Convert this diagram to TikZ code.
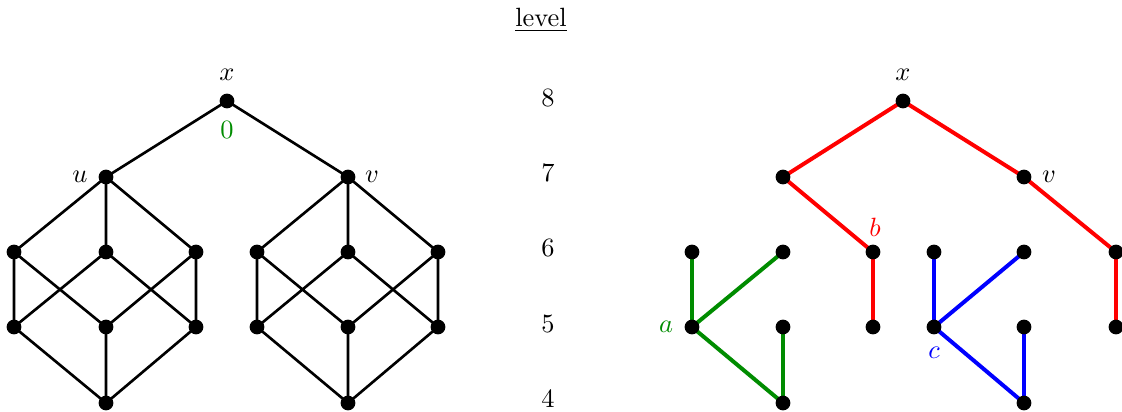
\documentclass[tikz,border=0pt]{standalone}
\definecolor{mygreen}{RGB}{0,140,0}
\begin{document}
\begin{tikzpicture}[x=0.3787pt,y=-0.3787pt,
  dot/.style={circle,fill=black,inner sep=0pt,minimum size=5.6pt},
  bl/.style={line width=1pt,black},
  rd/.style={line width=1.5pt,red},
  gr/.style={line width=1.5pt,mygreen},
  bu/.style={line width=1.5pt,blue}]
\useasboundingbox (0,0) rectangle (1122,412);
% level column
\node (lev) at (541,20) {\underline{level}};
\node (l8) at (548,98) {8};
\node (l7) at (548,173) {7};
\node (l6) at (548,248) {6};
\node (l5) at (548,324) {5};
\node (l4) at (548,399) {4};
% left diagram nodes
\coordinate (X) at (227,101);
\coordinate (U) at (106,177);
\coordinate (V) at (348,177);
\coordinate (A1) at (14,252); \coordinate (A2) at (106,252); \coordinate (A3) at (196,252);
\coordinate (B1) at (14,327); \coordinate (B2) at (106,327); \coordinate (B3) at (196,327);
\coordinate (C) at (106,403);
\coordinate (D1) at (257,252); \coordinate (D2) at (348,252); \coordinate (D3) at (438,252);
\coordinate (E1) at (257,327); \coordinate (E2) at (348,327); \coordinate (E3) at (438,327);
\coordinate (F) at (348,403);
\draw[bl] (X)--(U) (X)--(V);
\draw[bl] (U)--(A1) (U)--(A2) (U)--(A3)
  (A1)--(B1) (A1)--(B2) (A2)--(B1) (A2)--(B3) (A3)--(B2) (A3)--(B3)
  (B1)--(C) (B2)--(C) (B3)--(C);
\draw[bl] (V)--(D1) (V)--(D2) (V)--(D3)
  (D1)--(E1) (D1)--(E2) (D2)--(E1) (D2)--(E3) (D3)--(E2) (D3)--(E3)
  (E1)--(F) (E2)--(F) (E3)--(F);
\foreach \p in {X,U,V,A1,A2,A3,B1,B2,B3,C,D1,D2,D3,E1,E2,E3,F}
  \node[dot] (n\p) at (\p) {};
\node (lx) at (227,75) {$x$};
\node[text=mygreen] (l0) at (227,130) {$0$};
\node (lu) at (80,177) {$u$};
\node (lv) at (372,177) {$v$};
% right diagram
\coordinate (RX) at (903,101);
\coordinate (RU) at (783,177); \coordinate (RV) at (1024,177);
\coordinate (R61) at (692,252); \coordinate (R62) at (783,252); \coordinate (R63) at (873,252);
\coordinate (R64) at (934,252); \coordinate (R65) at (1024,252); \coordinate (R66) at (1116,252);
\coordinate (R51) at (692,327); \coordinate (R52) at (783,327); \coordinate (R53) at (873,327);
\coordinate (R54) at (934,327); \coordinate (R55) at (1024,327); \coordinate (R56) at (1116,327);
\coordinate (R41) at (783,403); \coordinate (R42) at (1024,403);
\draw[rd] (RX)--(RU) (RX)--(RV) (RU)--(R63) (R63)--(R53) (RV)--(R66) (R66)--(R56);
\draw[gr] (R51)--(R61) (R51)--(R62) (R51)--(R41) (R41)--(R52);
\draw[bu] (R54)--(R64) (R54)--(R65) (R54)--(R42) (R42)--(R55);
\foreach \p in {RX,RU,RV,R61,R62,R63,R64,R65,R66,R51,R52,R53,R54,R55,R56,R41,R42}
  \node[dot] (n\p) at (\p) {};
\node (rlx) at (903,75) {$x$};
\node (rlv) at (1049,177) {$v$};
\node[text=mygreen] (la) at (666,327) {$a$};
\node[text=red] (lb) at (875,227) {$b$};
\node[text=blue] (lc) at (934,353) {$c$};
\end{tikzpicture}
\end{document}
